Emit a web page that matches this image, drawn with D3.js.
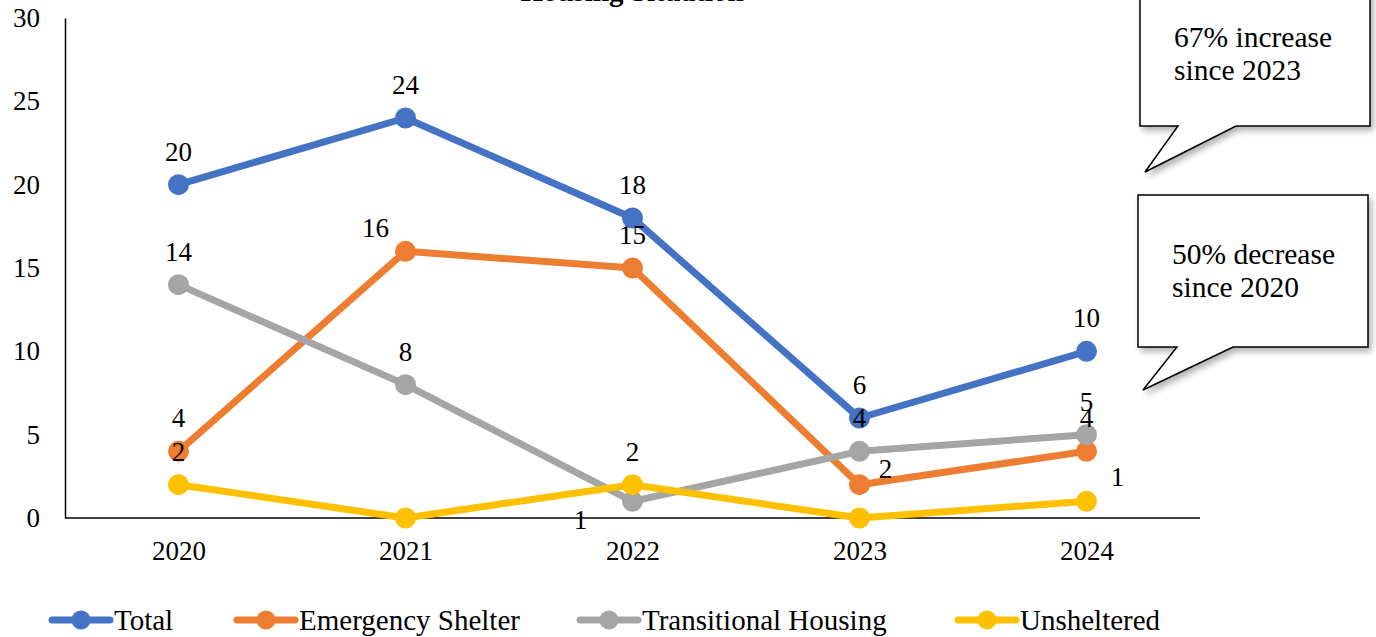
<!DOCTYPE html>
<html>
<head>
<meta charset="utf-8">
<script src="https://cdn.jsdelivr.net/npm/d3@7"></script>
<style>
  html, body { margin: 0; padding: 0; background: #fff; }
  svg { display: block; }
  text { font-family: "Liberation Serif", "Times New Roman", "DejaVu Serif", serif; fill: #000; }
</style>
</head>
<body>
<svg id="chart" width="1376" height="637"></svg>
<script>
// ---- Data ----
const years = ["2020", "2021", "2022", "2023", "2024"];
const seriesNames = ["Total", "Emergency Shelter", "Transitional Housing", "Unsheltered"];
const totalValues = [20, 24, 18, 6, 10];
const emergencyShelterValues = [4, 16, 15, 2, 4];
const transitionalHousingValues = [14, 8, 1, 4, 5];
const unshelteredValues = [2, 0, 2, 0, 1];
const yTicks = [0, 5, 10, 15, 20, 25, 30];
const titleText = "Housing Situation";
const callout1Lines = ["67% increase", "since 2023"];
const callout2Lines = ["50% decrease", "since 2020"];

// ---- Styles / layout (not data) ----
const colors = ["#4472C4", "#ED7D31", "#A5A5A5", "#FFC000"];
const allValues = [totalValues, emergencyShelterValues, transitionalHousingValues, unshelteredValues];
const FONT = 27;
// label placement offsets (label centre relative to point), default is above
const labelOffsets = {
  "1-1": [-30, -23],
  "1-3": [26, -16],
  "2-2": [-52, 19],
  "3-4": [31, -24]
};
const hiddenLabels = { "3-1": true, "3-3": true };
const legendX = [52, 237, 580, 958];

const svg = d3.select("#chart");
const defs = svg.append("defs");
const f = defs.append("filter").attr("id", "shadow").attr("x", "-20%").attr("y", "-20%").attr("width", "140%").attr("height", "140%");
f.append("feDropShadow").attr("dx", 3).attr("dy", 4).attr("stdDeviation", 3)
  .attr("flood-color", "#000").attr("flood-opacity", 0.3);

const x = d3.scalePoint().domain(years).range([65, 1200]).padding(0.5);
const y = d3.scaleLinear().domain([0, 30]).range([518, 18]);

// Title (mostly cut off at top)
svg.append("text").attr("x", 632).attr("y", 1).attr("text-anchor", "middle")
  .attr("font-size", 29).attr("font-weight", "bold").text(titleText);

// Y axis
const yAxis = svg.append("g").attr("transform", "translate(65,0)")
  .call(d3.axisLeft(y).tickValues(yTicks).tickSize(0).tickPadding(25));
yAxis.select(".domain").attr("stroke", "#000").attr("stroke-width", 1.5);
yAxis.selectAll("text").attr("font-size", FONT).attr("fill", "#000");

// X axis
const xAxis = svg.append("g").attr("transform", "translate(0,518)")
  .call(d3.axisBottom(x).tickSize(0).tickPadding(23));
xAxis.select(".domain").attr("d", "M65,0H1200").attr("stroke", "#000").attr("stroke-width", 1.5);
xAxis.selectAll("text").attr("font-size", FONT).attr("fill", "#000");
svg.selectAll("g").attr("font-family", null);

// Lines and markers
const line = d3.line().x((d, i) => x(years[i])).y(d => y(d));
allValues.forEach((vals, s) => {
  const g = svg.append("g");
  g.append("path").datum(vals).attr("d", line).attr("fill", "none")
    .attr("stroke", colors[s]).attr("stroke-width", 7).attr("stroke-linejoin", "round");
  g.selectAll("circle").data(vals).join("circle")
    .attr("cx", (d, i) => x(years[i])).attr("cy", d => y(d)).attr("r", 10.5)
    .attr("fill", colors[s]);
});

// Data labels
allValues.forEach((vals, s) => {
  vals.forEach((v, i) => {
    const key = s + "-" + i;
    if (hiddenLabels[key]) return;
    const off = labelOffsets[key] || [0, -33];
    svg.append("text")
      .attr("x", x(years[i]) + off[0])
      .attr("y", y(v) + off[1] + 9)
      .attr("text-anchor", "middle")
      .attr("font-size", FONT)
      .text(v);
  });
});

// Callouts
function callout(top, bottom, left, right, tail, lines, firstBaseline) {
  const p = d3.path();
  p.moveTo(left, top);
  p.lineTo(right, top);
  p.lineTo(right, bottom);
  p.lineTo(tail[2], bottom);
  p.lineTo(tail[0], tail[1]);
  p.lineTo(tail[3], bottom);
  p.lineTo(left, bottom);
  p.closePath();
  svg.append("path").attr("d", p.toString()).attr("fill", "#fff")
    .attr("stroke", "#000").attr("stroke-width", 1.5).attr("filter", "url(#shadow)");
  lines.forEach((t, k) => {
    svg.append("text").attr("x", left + 34).attr("y", firstBaseline + k * 33)
      .attr("font-size", 29.5).text(t);
  });
}
callout(-40, 126, 1140, 1370, [1145, 172, 1236, 1178], callout1Lines, 47);
callout(195, 347, 1138, 1368, [1143, 390, 1233, 1177], callout2Lines, 264);

// Legend
const ly = 620;
seriesNames.forEach((name, s) => {
  const lx = legendX[s];
  const g = svg.append("g");
  g.append("line").attr("x1", lx).attr("x2", lx + 58).attr("y1", ly).attr("y2", ly)
    .attr("stroke", colors[s]).attr("stroke-width", 7).attr("stroke-linecap", "round");
  g.append("circle").attr("cx", lx + 29).attr("cy", ly).attr("r", 9.5).attr("fill", colors[s]);
  g.append("text").attr("x", lx + 62).attr("y", ly + 9.5).attr("font-size", 29).text(name);
});
</script>
</body>
</html>
